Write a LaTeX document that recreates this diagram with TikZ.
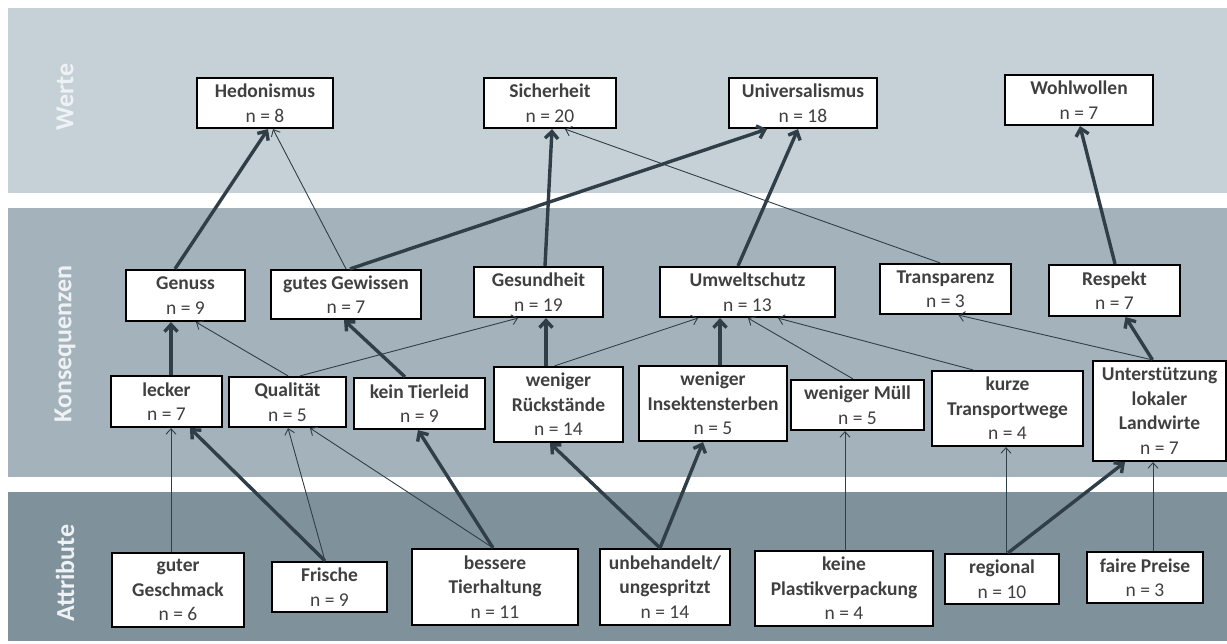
\documentclass[tikz,border=0pt]{standalone}
\usepackage{fontspec}
\setmainfont{Carlito}
\usetikzlibrary{arrows.meta}
\definecolor{bandA}{RGB}{197,209,214}
\definecolor{bandB}{RGB}{164,179,187}
\definecolor{bandC}{RGB}{127,146,155}
\definecolor{lblcol}{RGB}{238,242,244}
\definecolor{txtgray}{RGB}{64,64,64}
\definecolor{edgecol}{RGB}{48,62,72}
\tikzset{
  box/.style={draw=black, line width=2.2pt, fill=white, inner sep=0pt, align=center,
    text=txtgray, font=\fontsize{19.5}{24.5}\selectfont},
  bandlabel/.style={rotate=90, text=lblcol, font=\fontsize{26}{28}\selectfont\bfseries},
  lnthin/.style={draw=edgecol, line width=0.9pt, -{Straight Barb[length=5.5pt,width=10pt]}},
  lnthick/.style={draw=edgecol, line width=3.4pt, -{Straight Barb[length=7pt,width=13pt]}}
}
\newcommand{\bx}[2]{\textbf{#1}\\n = #2}
\begin{document}
\begin{tikzpicture}[x=1pt,y=-1pt]
\useasboundingbox (0,0) rectangle (1227,644);
% bands
\fill[bandA] (8,8) rectangle (1227,193);
\fill[bandB] (8,208) rectangle (1227,477);
\fill[bandC] (8,492) rectangle (1227,641);
\node[bandlabel] (lw) at (65,97) {Werte};
\node[bandlabel] (lk) at (65,344) {Konsequenzen};
\node[bandlabel] (la) at (65,573) {Attribute};
% Werte
\node[box, minimum width=136pt, minimum height=50pt] (hed) at (265,103) {\bx{Hedonismus}{8}};
\node[box, minimum width=132pt, minimum height=50pt] (sich) at (550,103) {\bx{Sicherheit}{20}};
\node[box, minimum width=148pt, minimum height=50pt] (univ) at (803,103) {\bx{Universalismus}{18}};
\node[box, minimum width=148pt, minimum height=50pt] (wohl) at (1079,100) {\bx{Wohlwollen}{7}};
% Konsequenzen row 1
\node[box, minimum width=119pt, minimum height=51pt] (gen) at (185.5,295.5) {\bx{Genuss}{9}};
\node[box, minimum width=150pt, minimum height=49pt] (gew) at (346,294.5) {\bx{gutes Gewissen}{7}};
\node[box, minimum width=129pt, minimum height=50pt] (ges) at (538.5,292) {\bx{Gesundheit}{19}};
\node[box, minimum width=175pt, minimum height=50pt] (umw) at (747.5,292) {\bx{Umweltschutz}{13}};
\node[box, minimum width=131pt, minimum height=50pt] (tra) at (945.5,289) {\bx{Transparenz}{3}};
\node[box, minimum width=131pt, minimum height=51pt] (res) at (1114.5,290.5) {\bx{Respekt}{7}};
% Konsequenzen row 2
\node[box, minimum width=111pt, minimum height=51pt] (leck) at (166.5,401.5) {\bx{lecker}{7}};
\node[box, minimum width=117pt, minimum height=50pt] (qual) at (287.5,402) {\bx{Qualität}{5}};
\node[box, minimum width=131pt, minimum height=51pt] (kein) at (419.5,403.5) {\bx{kein Tierleid}{9}};
\node[box, minimum width=129pt, minimum height=75pt] (rueck) at (558.5,404.5) {\textbf{weniger}\\\bx{Rückstände}{14}};
\node[box, minimum width=148pt, minimum height=75pt] (ins) at (713,403.5) {\textbf{weniger}\\\bx{Insektensterben}{5}};
\node[box, minimum width=133pt, minimum height=50pt] (muell) at (857.5,405) {\bx{weniger Müll}{5}};
\node[box, minimum width=151pt, minimum height=75pt] (kurz) at (1007.5,408.5) {\textbf{kurze}\\\bx{Transportwege}{4}};
\node[box, minimum width=133pt, minimum height=100pt] (unt) at (1159.5,411) {\textbf{Unterstützung}\\\textbf{lokaler}\\\bx{Landwirte}{7}};
% Attribute
\node[box, minimum width=132pt, minimum height=74pt] (gg) at (178,590) {\textbf{guter}\\\bx{Geschmack}{6}};
\node[box, minimum width=115pt, minimum height=50pt] (fri) at (329.5,587) {\bx{Frische}{9}};
\node[box, minimum width=166pt, minimum height=76pt] (bes) at (495,587) {\textbf{bessere}\\\bx{Tierhaltung}{11}};
\node[box, minimum width=130pt, minimum height=76pt] (unb) at (665,587) {\textbf{unbehandelt/}\\\bx{ungespritzt}{14}};
\node[box, minimum width=178pt, minimum height=75pt] (kei) at (844,588.5) {\textbf{keine}\\\bx{Plastikverpackung}{4}};
\node[box, minimum width=114pt, minimum height=50pt] (reg) at (1002,579) {\bx{regional}{10}};
\node[box, minimum width=116pt, minimum height=51pt] (fai) at (1145,577.5) {\bx{faire Preise}{3}};
% Attribute -> Konsequenzen
\draw[lnthin]  ([xshift=-7pt]gg.north) -- ([xshift=4.5pt]leck.south);
\draw[lnthick] ([xshift=-4.5pt]fri.north) -- ([xshift=23.5pt]leck.south);
\draw[lnthin]  ([xshift=-4.5pt]fri.north) -- ([xshift=0.5pt]qual.south);
\draw[lnthin]  ([xshift=-2pt]bes.north) -- ([xshift=22.5pt]qual.south);
\draw[lnthick] ([xshift=-2pt]bes.north) -- ([xshift=-1.5pt]kein.south);
\draw[lnthick] ([xshift=-5pt]unb.north) -- ([xshift=-8.5pt]rueck.south);
\draw[lnthick] ([xshift=-5pt]unb.north) -- ([xshift=-10pt]ins.south);
\draw[lnthin]  ([xshift=1pt]kei.north) -- ([xshift=-12.5pt]muell.south);
\draw[lnthin]  ([xshift=4pt]reg.north) -- ([xshift=-1.5pt]kurz.south);
\draw[lnthick] ([xshift=6pt]reg.north) -- ([xshift=-34.5pt]unt.south);
\draw[lnthin]  ([xshift=8pt]fai.north) -- ([xshift=-6.5pt]unt.south);
% Konsequenzen -> Konsequenzen
\draw[lnthick] ([xshift=4.5pt]leck.north) -- ([xshift=-14.5pt]gen.south);
\draw[lnthin]  ([xshift=0.5pt]qual.north) -- ([xshift=10.5pt]gen.south);
\draw[lnthin]  ([xshift=12.5pt]qual.north) -- ([xshift=-20.5pt]ges.south);
\draw[lnthick] ([xshift=-14.5pt]kein.north) -- ([xshift=-2pt]gew.south);
\draw[lnthick] ([xshift=-12.5pt]rueck.north) -- ([xshift=7.5pt]ges.south);
\draw[lnthin]  ([xshift=-4pt]rueck.north) -- ([xshift=-49.5pt]umw.south);
\draw[lnthick] ([xshift=7pt]ins.north) -- ([xshift=-27.5pt]umw.south);
\draw[lnthin]  ([xshift=-4.5pt]muell.north) -- ([xshift=0.5pt]umw.south);
\draw[lnthin]  ([xshift=-34.5pt]kurz.north) -- ([xshift=30.5pt]umw.south);
\draw[lnthin]  ([xshift=-7pt]unt.north) -- ([xshift=13pt]tra.south);
\draw[lnthick] ([xshift=-7pt]unt.north) -- ([xshift=11pt]res.south);
% Konsequenzen -> Werte
\draw[lnthick] ([xshift=-10.5pt]gen.north) -- ([xshift=3pt]hed.south);
\draw[lnthin]  ([xshift=0pt]gew.north) -- ([xshift=8pt]hed.south);
\draw[lnthick] ([xshift=4pt]gew.north) -- ([xshift=-36pt]univ.south);
\draw[lnthick] ([xshift=6.5pt]ges.north) -- ([xshift=2pt]sich.south);
\draw[lnthin]  ([xshift=-5.5pt]tra.north) -- ([xshift=15pt]sich.south);
\draw[lnthick] ([xshift=-9.5pt]umw.north) -- ([xshift=-5pt]univ.south);
\draw[lnthick] ([xshift=0.5pt]res.north) -- ([xshift=1pt]wohl.south);
\end{tikzpicture}
\end{document}
